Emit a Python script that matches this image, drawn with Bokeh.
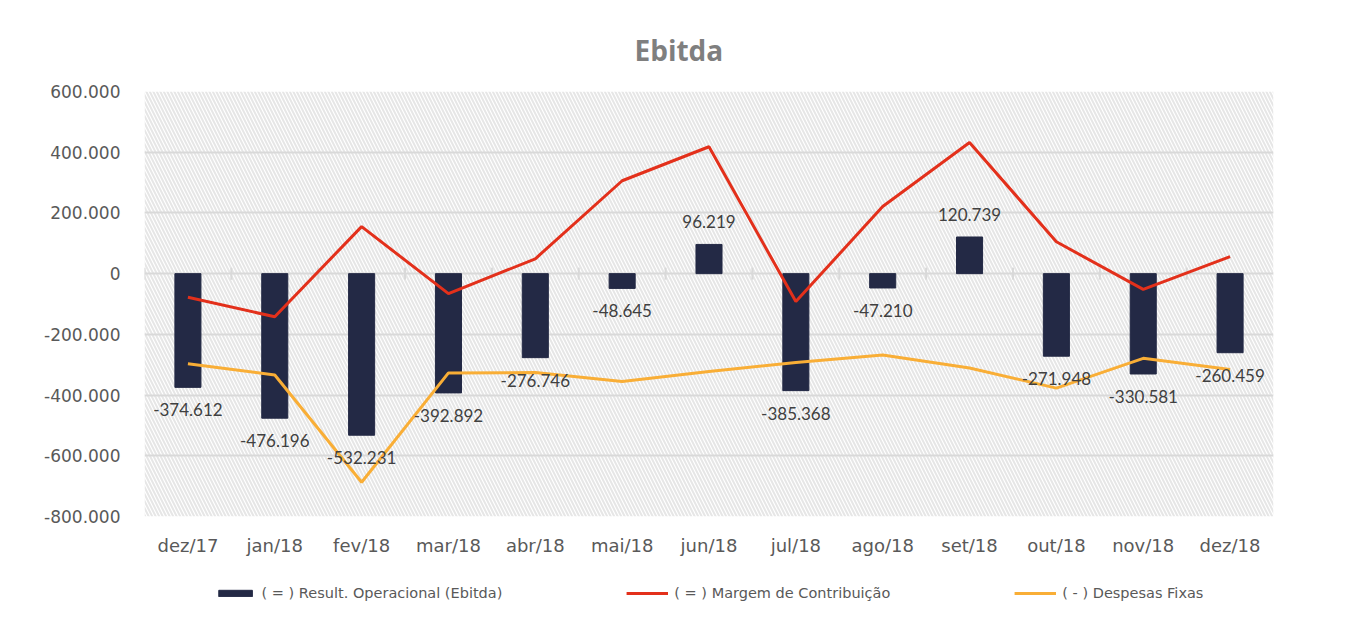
import math
from bokeh.plotting import figure
from bokeh.layouts import column
from bokeh.models import (FactorRange, Range1d, FixedTicker, CustomJSTickFormatter,
                          BoxAnnotation, Legend, LegendItem, ColumnDataSource)
from bokeh.transform import dodge
from bokeh.core.properties import value
from bokeh.embed import file_html
from bokeh.resources import INLINE

# ---- data ----
months = ["dez/17", "jan/18", "fev/18", "mar/18", "abr/18", "mai/18", "jun/18",
          "jul/18", "ago/18", "set/18", "out/18", "nov/18", "dez/18"]
ebitda = [-374612, -476196, -532231, -392892, -276746, -48645, 96219,
          -385368, -47210, 120739, -271948, -330581, -260459]
margem = [-78000, -142000, 155000, -66000, 49000, 306000, 418000,
          -92000, 221000, 432000, 105000, -52000, 56000]
despesas = [-297000, -334000, -687000, -327000, -326000, -355000, -322000,
            -293000, -268000, -311000, -377000, -279000, -316000]
y_ticks = [-800000, -600000, -400000, -200000, 0, 200000, 400000, 600000]

series_names = ["( = ) Result. Operacional (Ebitda)",
                "( = ) Margem de Contribuição",
                "( - ) Despesas Fixas"]


def fmt(v):
    s = f"{abs(int(v)):,}".replace(",", ".")
    return ("-" if v < 0 else "") + s


BAR = "#232945"
RED = "#e3301b"
ORANGE = "#f9ae36"
AXIS_TXT = "#595959"
GRID = "#d9d9d9"

p = figure(width=1346, height=560, output_backend="svg", toolbar_location=None,
           x_range=FactorRange(factors=months, range_padding=0),
           y_range=Range1d(y_ticks[0], y_ticks[-1]),
           min_border_left=144, min_border_right=0, min_border_top=91,
           min_border_bottom=44)
p.outline_line_color = None

# title
p.title.text = "Ebitda"
p.title.align = "left"
p.title.offset = 490
p.title.standoff = 46
p.title.text_font = "Open Sans"
p.title.text_font_style = "bold"
p.title.text_font_size = "28px"
p.title.text_color = "#7f7f7f"

# hatched background
p.add_layout(BoxAnnotation(fill_alpha=0, line_alpha=0, hatch_pattern="\\",
                           hatch_color="#e6e6e6", hatch_weight=2, hatch_scale=7,
                           level="image"))

# axes
p.yaxis.ticker = FixedTicker(ticks=y_ticks)
p.yaxis.formatter = CustomJSTickFormatter(code="""
const s = Math.abs(tick).toFixed(0).replace(/\\B(?=(\\d{3})+(?!\\d))/g, ".");
return (tick < 0 ? "-" : "") + s;
""")
for ax in (p.xaxis, p.yaxis):
    ax.axis_line_color = None
    ax.major_tick_line_color = None
    ax.minor_tick_line_color = None
    ax.major_label_text_font = "DejaVu Sans"
    ax.major_label_text_color = AXIS_TXT
p.xaxis.major_label_text_font_size = "18px"
p.yaxis.major_label_text_font_size = "17px"
p.yaxis.major_label_standoff = 18
p.xaxis.major_label_standoff = 12

p.xgrid.grid_line_color = None
p.ygrid.ticker = FixedTicker(ticks=y_ticks)
p.ygrid.grid_line_color = GRID
p.ygrid.grid_line_width = 2

src = ColumnDataSource(dict(m=months, e=ebitda, mg=margem, d=despesas,
                            z=[0] * len(months)))

# category boundary tick marks on the zero line
p.scatter(x=dodge("m", -0.5, range=p.x_range), y="z", source=src, marker="dash",
          angle=math.pi / 2, size=12, line_color=GRID, line_width=2)

bars = p.vbar(x="m", top="e", bottom=0, width=0.3, source=src,
              fill_color=BAR, line_color=BAR)
l_red = p.line(x="m", y="mg", source=src, line_color=RED, line_width=3)
l_or = p.line(x="m", y="d", source=src, line_color=ORANGE, line_width=3)

neg = [i for i, v in enumerate(ebitda) if v < 0]
pos = [i for i, v in enumerate(ebitda) if v >= 0]
src_neg = ColumnDataSource(dict(m=[months[i] for i in neg], e=[ebitda[i] for i in neg],
                                t=[fmt(ebitda[i]) for i in neg]))
src_pos = ColumnDataSource(dict(m=[months[i] for i in pos], e=[ebitda[i] for i in pos],
                                t=[fmt(ebitda[i]) for i in pos]))
p.text(x="m", y="e", text="t", source=src_neg, text_align="center",
       text_baseline="top", y_offset=16, text_font=value("Lato"),
       text_font_size="17px", text_color="#404040")
p.text(x="m", y="e", text="t", source=src_pos, text_align="center",
       text_baseline="bottom", y_offset=-16, text_font=value("Lato"),
       text_font_size="17px", text_color="#404040")

# legend strip below the chart (series drawn out of view, only the legend shows)
lg = figure(width=1346, height=66, output_backend="svg", toolbar_location=None,
            x_range=FactorRange(factors=months), y_range=Range1d(10**9, 10**9 + 1),
            x_axis_location=None, y_axis_location=None,
            min_border_left=0, min_border_right=73, min_border_top=0,
            min_border_bottom=0)
lg.grid.visible = False
lg.outline_line_color = None
r1 = lg.vbar(x="m", top="e", bottom=0, width=0.3, source=src,
             fill_color=BAR, line_color=BAR)
r2 = lg.line(x="m", y="mg", source=src, line_color=RED, line_width=3)
r3 = lg.line(x="m", y="d", source=src, line_color=ORANGE, line_width=3)
legend = Legend(items=[LegendItem(label=series_names[0], renderers=[r1]),
                       LegendItem(label=series_names[1], renderers=[r2]),
                       LegendItem(label=series_names[2], renderers=[r3])],
                orientation="horizontal", spacing=124, location="center",
                glyph_width=42, glyph_height=8, label_standoff=6,
                label_text_font="DejaVu Sans",
                label_text_font_size="14.5px", label_text_color=AXIS_TXT,
                border_line_color=None, background_fill_alpha=0)
lg.add_layout(legend, "center")

layout = column(p, lg, spacing=0)
open("out.html", "w").write(file_html(layout, INLINE))
